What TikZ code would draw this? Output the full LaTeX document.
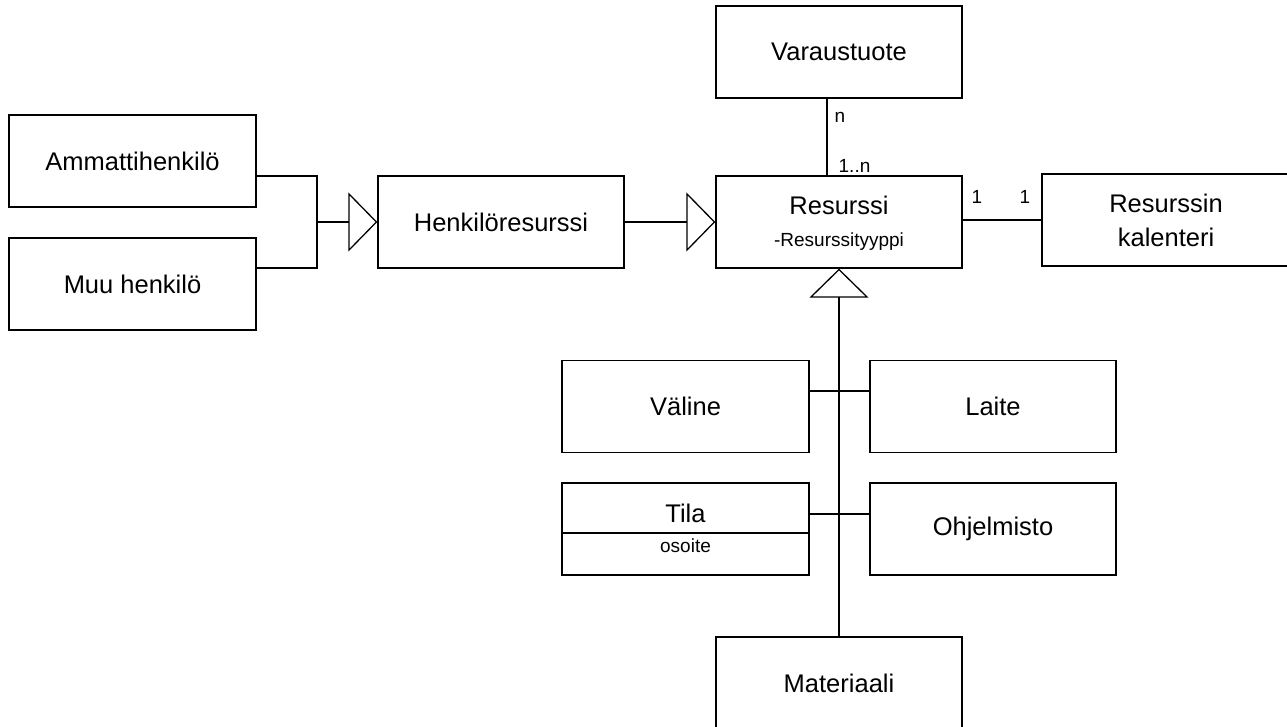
\documentclass[tikz,border=0pt]{standalone}
\usepackage{fontspec}
\setmainfont{Liberation Sans}
\usetikzlibrary{arrows.meta}

\newcommand{\boxfont}{\fontsize{25.5}{34}\selectfont}
\newcommand{\labelfont}{\fontsize{19}{23}\selectfont}

\begin{document}
\begin{tikzpicture}[x=1pt,y=-1pt,line width=1.3pt,
  box/.style={draw, rectangle, minimum width=246pt, minimum height=92pt, inner sep=0pt, font=\boxfont},
  lbl/.style={font=\labelfont, inner sep=0pt},
  gen/.style={-{Triangle[open,length=29pt,width=59pt]}}]

\useasboundingbox (0,0) rectangle (1287,727);

% Classes
\node[box] (varaus) at (839,52) {Varaustuote};
\node[box] (resurssi) at (839,222) {};
\node[box, align=center, minimum width=248pt] (kalenteri) at (1166,220) {Resurssin\\kalenteri};
\node[box] (henkilo) at (501,222) {Henkilöresurssi};
\node[box, minimum width=247pt] (ammatti) at (132.5,161) {Ammattihenkilö};
\node[box, minimum width=247pt] (muu) at (132.5,284) {Muu henkilö};
\node[box, minimum width=247pt] (valine) at (685.5,406.5) {Väline};
\node[box] (laite) at (993,406.5) {Laite};
\node[box, minimum width=247pt] (tila) at (685.5,529) {};
\node[box] (ohjelmisto) at (993,529) {Ohjelmisto};
\node[box] (materiaali) at (839,683) {Materiaali};

% Class texts with attributes
\node[inner sep=0pt, font=\boxfont, anchor=base] (resname) at (839,215) {Resurssi};
\node[lbl, anchor=base] (resattr) at (839,247) {-Resurssityyppi};
\node[inner sep=0pt, font=\boxfont, anchor=base] (tilaname) at (685.5,522) {Tila};
\node[lbl, anchor=base] (tilaattr) at (685.5,552) {osoite};
\draw ([yshift=-4pt]tila.west) -- ([yshift=-4pt]tila.east);

% Associations
\draw ([xshift=-12pt]varaus.south) -- ([xshift=-12pt]resurssi.north);
\node[lbl, anchor=west] (multn) at (834,117) {n};
\node[lbl, anchor=west] (multonen) at (838,166) {1..n};

\draw (kalenteri.west) -- (kalenteri.west -| resurssi.east);
\node[lbl] (multres) at (977,197) {1};
\node[lbl] (multkal) at (1025,197) {1};

% Generalisations
\coordinate (hmerge) at (317,222);
\draw ([yshift=-15pt]ammatti.east) -| (hmerge) |- ([yshift=16pt]muu.east);
\draw[gen] (hmerge) -- (henkilo);
\draw[gen] (henkilo) -- (resurssi);

\draw[gen] (materiaali) -- (resurssi);
\draw ([yshift=15.5pt]valine.east) -- ([yshift=15.5pt]laite.west);
\draw ([yshift=15pt]tila.east) -- ([yshift=15pt]ohjelmisto.west);

\end{tikzpicture}
\end{document}
